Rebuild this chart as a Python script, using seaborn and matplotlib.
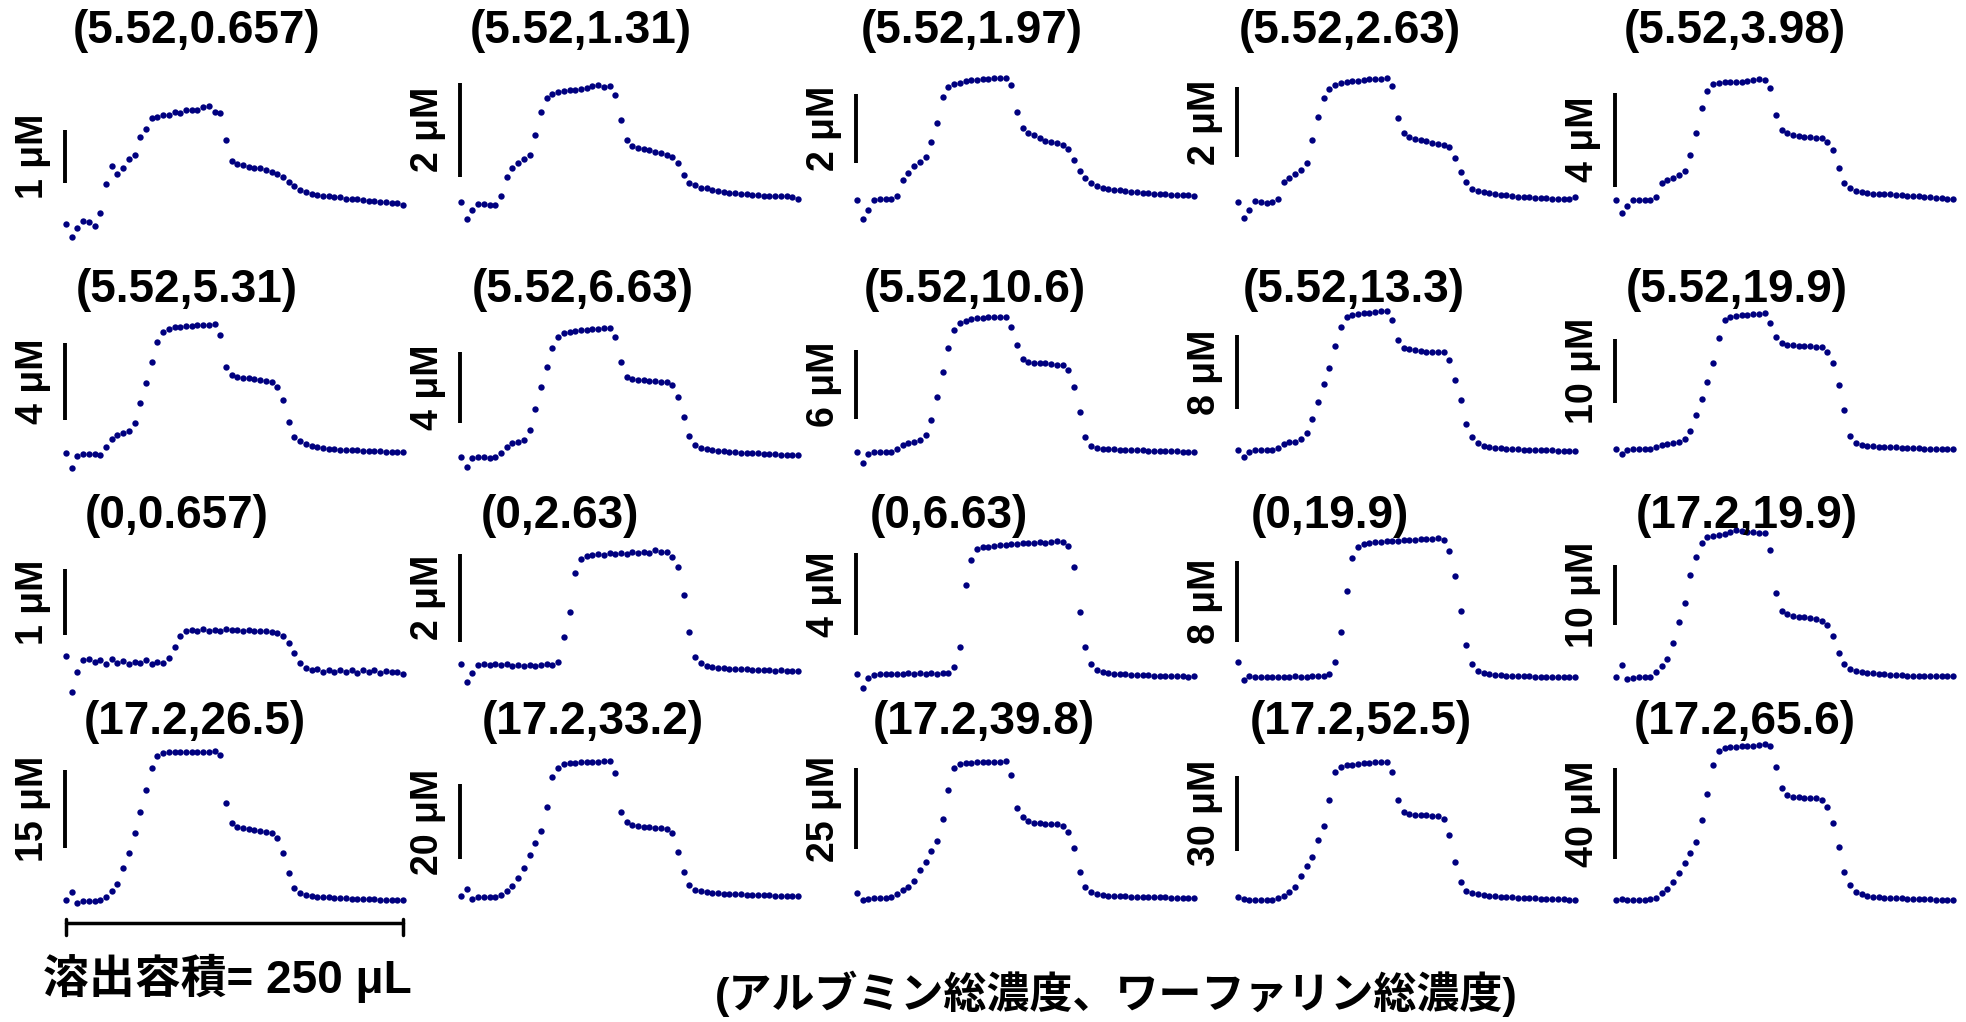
import numpy as np
import matplotlib
matplotlib.use("Agg")
import matplotlib.pyplot as plt
import seaborn as sns

sns.set_style("white")
plt.rcParams['font.family'] = ['Liberation Sans', 'Noto Sans CJK JP', 'DejaVu Sans']
plt.rcParams['font.weight'] = 'bold'
plt.rcParams['text.color'] = 'black'

# panel titles: (total albumin, total warfarin)
albumin = [5.52, 5.52, 5.52, 5.52, 5.52,
           5.52, 5.52, 5.52, 5.52, 5.52,
           0, 0, 0, 0, 17.2,
           17.2, 17.2, 17.2, 17.2, 17.2]
warfarin = [0.657, 1.31, 1.97, 2.63, 3.98,
            5.31, 6.63, 10.6, 13.3, 19.9,
            0.657, 2.63, 6.63, 19.9, 19.9,
            26.5, 33.2, 39.8, 52.5, 65.6]
# vertical scale bars (uM)
scale_bar = [1, 2, 2, 2, 4,
             4, 4, 6, 8, 10,
             1, 2, 4, 8, 10,
             15, 20, 25, 30, 40]
elution_volume = 250  # uL across the whole trace

# eluted warfarin concentration (uM above baseline) for each fraction
conc_01 = [0.0, -0.25, -0.08, 0.06, 0.04, -0.04, 0.2, 0.75, 1.1, 0.95,
           1.05, 1.22, 1.3, 1.65, 1.79, 2.0, 2.02, 2.06, 2.06, 2.12,
           2.09, 2.16, 2.15, 2.16, 2.2, 2.23, 2.12, 2.09, 1.58, 1.19,
           1.14, 1.11, 1.08, 1.05, 1.05, 1.02, 0.99, 0.94, 0.88, 0.8,
           0.72, 0.65, 0.6, 0.57, 0.55, 0.53, 0.52, 0.5, 0.5, 0.48,
           0.48, 0.47, 0.45, 0.44, 0.43, 0.42, 0.42, 0.4, 0.39, 0.36]
conc_02 = [0.04, -0.32, -0.13, 0.01, 0, -0.02, -0.02, 0.16, 0.58, 0.76,
           0.87, 0.95, 1.04, 1.47, 1.96, 2.26, 2.33, 2.38, 2.4, 2.43,
           2.43, 2.45, 2.47, 2.5, 2.53, 2.48, 2.51, 2.32, 1.79, 1.36,
           1.23, 1.2, 1.17, 1.14, 1.11, 1.08, 1.04, 0.99, 0.87, 0.62,
           0.45, 0.4, 0.35, 0.33, 0.3, 0.28, 0.26, 0.24, 0.23, 0.22,
           0.21, 0.2, 0.19, 0.18, 0.18, 0.16, 0.16, 0.16, 0.15, 0.11]
conc_03 = [0, -0.55, -0.29, 0, 0.02, 0.02, 0.03, 0.12, 0.58, 0.79,
           0.98, 1.09, 1.23, 1.68, 2.23, 2.98, 3.25, 3.34, 3.38, 3.42,
           3.46, 3.47, 3.48, 3.5, 3.52, 3.53, 3.53, 3.32, 2.55, 2.07,
           1.94, 1.87, 1.78, 1.71, 1.67, 1.63, 1.58, 1.46, 1.15, 0.85,
           0.63, 0.48, 0.4, 0.36, 0.33, 0.3, 0.28, 0.26, 0.24, 0.22,
           0.2, 0.19, 0.18, 0.17, 0.16, 0.15, 0.14, 0.13, 0.13, 0.12]
conc_04 = [0, -0.48, -0.24, 0.03, -0.01, -0.03, -0.02, 0.08, 0.58, 0.67,
           0.79, 0.9, 1.11, 1.78, 2.45, 2.98, 3.26, 3.38, 3.43, 3.46,
           3.48, 3.49, 3.51, 3.53, 3.53, 3.54, 3.56, 3.34, 2.4, 1.97,
           1.88, 1.82, 1.78, 1.74, 1.7, 1.66, 1.63, 1.57, 1.25, 0.87,
           0.58, 0.38, 0.31, 0.27, 0.24, 0.22, 0.2, 0.18, 0.16, 0.14,
           0.13, 0.13, 0.12, 0.11, 0.1, 0.09, 0.08, 0.08, 0.09, 0.14]
conc_05 = [0, -0.57, -0.26, 0, 0, 0, 0, 0.11, 0.74, 0.85,
           0.95, 1.08, 1.25, 1.91, 2.87, 3.9, 4.65, 4.92, 4.99, 5.02,
           5.02, 5.01, 5.02, 5.08, 5.09, 5.13, 5.11, 4.75, 3.62, 2.98,
           2.87, 2.78, 2.72, 2.7, 2.67, 2.65, 2.62, 2.48, 2.13, 1.35,
           0.74, 0.52, 0.4, 0.34, 0.3, 0.27, 0.26, 0.26, 0.24, 0.23,
           0.21, 0.18, 0.17, 0.16, 0.14, 0.11, 0.09, 0.07, 0.06, 0.03]
conc_06 = [0, -0.78, -0.14, -0.02, -0.03, -0.05, -0.07, 0.31, 0.73, 0.94,
           1.08, 1.18, 1.57, 2.61, 3.69, 4.78, 5.83, 6.33, 6.5, 6.57,
           6.61, 6.63, 6.64, 6.68, 6.7, 6.71, 6.73, 6.17, 4.52, 4.1,
           4.0, 3.95, 3.91, 3.88, 3.83, 3.77, 3.72, 3.48, 2.78, 1.65,
           0.87, 0.63, 0.47, 0.37, 0.31, 0.26, 0.24, 0.21, 0.19, 0.17,
           0.17, 0.16, 0.14, 0.14, 0.12, 0.1, 0.09, 0.09, 0.07, 0.05]
conc_07 = [0.04, -0.52, -0.04, 0, 0, -0.04, 0, 0.22, 0.6, 0.82,
           0.87, 0.97, 1.53, 2.68, 3.94, 5.02, 6.08, 6.7, 6.92, 7.01,
           7.05, 7.09, 7.11, 7.14, 7.16, 7.2, 7.22, 6.7, 5.34, 4.47,
           4.35, 4.32, 4.3, 4.26, 4.24, 4.22, 4.19, 4.04, 3.39, 2.27,
           1.19, 0.69, 0.5, 0.45, 0.39, 0.35, 0.33, 0.3, 0.28, 0.26,
           0.24, 0.22, 0.22, 0.2, 0.19, 0.19, 0.15, 0.15, 0.13, 0.11]
conc_08 = [0, -0.95, -0.14, 0, 0, 0, 0.03, 0.32, 0.63, 0.84,
           0.89, 1.07, 1.5, 2.8, 4.81, 6.97, 8.99, 10.58, 11.15, 11.38,
           11.5, 11.59, 11.64, 11.7, 11.73, 11.73, 11.73, 10.86, 9.28, 8.04,
           7.84, 7.75, 7.72, 7.69, 7.64, 7.58, 7.52, 7.12, 5.68, 3.52,
           1.35, 0.55, 0.35, 0.29, 0.26, 0.26, 0.23, 0.2, 0.2, 0.17,
           0.17, 0.14, 0.14, 0.12, 0.12, 0.09, 0.09, 0.06, 0.06, 0.06]
conc_09 = [0, -0.72, -0.18, -0.04, -0.04, 0, 0, 0.25, 0.61, 0.82,
           0.86, 1.15, 1.86, 3.3, 5.2, 7.06, 8.78, 11.18, 13.26, 14.34,
           14.55, 14.66, 14.7, 14.77, 14.84, 14.91, 14.91, 13.98, 11.83, 10.93,
           10.82, 10.72, 10.65, 10.57, 10.54, 10.54, 10.5, 9.68, 7.53, 5.38,
           2.8, 1.36, 0.72, 0.47, 0.32, 0.25, 0.18, 0.14, 0.11, 0.07,
           0.04, 0.04, 0, 0, -0.04, -0.04, -0.07, -0.07, -0.07, -0.11]
conc_10 = [0, -0.73, -0.1, 0.05, 0, 0, 0.05, 0.31, 0.68, 0.89,
           0.99, 1.15, 1.56, 2.86, 5.36, 7.92, 10.57, 13.44, 17.34, 20.21,
           20.68, 20.89, 20.99, 21.04, 21.09, 21.2, 21.25, 19.79, 17.5, 16.56,
           16.35, 16.25, 16.2, 16.15, 16.09, 16.04, 15.94, 15.26, 13.54, 10.05,
           6.15, 2.08, 1.04, 0.73, 0.57, 0.47, 0.42, 0.36, 0.31, 0.31,
           0.26, 0.21, 0.16, 0.16, 0.1, 0.1, 0.05, 0.05, 0.05, 0]
conc_11 = [0.08, -0.46, -0.15, 0.03, 0.04, 0, 0.03, -0.03, 0.04, -0.02,
           0.01, -0.04, 0, -0.02, 0.02, -0.04, 0, -0.02, 0.05, 0.23,
           0.39, 0.46, 0.48, 0.47, 0.5, 0.47, 0.49, 0.47, 0.5, 0.48,
           0.49, 0.47, 0.48, 0.47, 0.46, 0.46, 0.45, 0.44, 0.39, 0.28,
           0.13, -0.02, -0.09, -0.13, -0.11, -0.15, -0.12, -0.15, -0.12, -0.16,
           -0.13, -0.17, -0.13, -0.16, -0.13, -0.17, -0.14, -0.16, -0.15, -0.18]
conc_12 = [0.03, -0.37, -0.17, 0.01, 0.02, 0, 0.03, 0, 0.02, -0.02,
           0.01, -0.02, 0, -0.02, 0, 0.02, 0, 0.08, 0.65, 1.22,
           2.1, 2.42, 2.49, 2.52, 2.54, 2.52, 2.56, 2.53, 2.57, 2.55,
           2.59, 2.56, 2.59, 2.57, 2.62, 2.58, 2.59, 2.48, 2.24, 1.6,
           0.77, 0.2, 0.05, -0.02, -0.05, -0.06, -0.07, -0.08, -0.08, -0.09,
           -0.09, -0.1, -0.11, -0.11, -0.11, -0.12, -0.11, -0.12, -0.12, -0.13]
conc_13 = [0.02, -0.68, -0.19, -0.02, 0, 0.02, 0, 0.03, 0.02, 0.05,
           0.02, 0.05, 0.02, 0.06, 0.03, 0.06, 0.05, 0.37, 1.34, 4.34,
           5.55, 6.11, 6.17, 6.2, 6.25, 6.27, 6.3, 6.33, 6.35, 6.36,
           6.38, 6.4, 6.41, 6.38, 6.41, 6.49, 6.41, 6.23, 5.23, 3.04,
           1.34, 0.5, 0.21, 0.11, 0.06, 0.03, 0.02, 0, -0.02, -0.03,
           -0.03, -0.05, -0.06, -0.06, -0.08, -0.08, -0.1, -0.1, -0.11, -0.08]
conc_14 = [1.5, -0.3, 0.05, 0, 0.03, 0.02, 0, 0.04, 0.02, 0.03,
           0.05, 0.03, 0.04, 0.05, 0.06, 0.08, 0.3, 1.5, 4.5, 8.5,
           11.8, 12.9, 13.2, 13.3, 13.35, 13.4, 13.45, 13.5, 13.5, 13.55,
           13.6, 13.6, 13.65, 13.7, 13.7, 13.75, 13.6, 12.5, 10.0, 6.5,
           3.2, 1.3, 0.6, 0.35, 0.25, 0.2, 0.15, 0.12, 0.1, 0.08,
           0.06, 0.05, 0.04, 0.03, 0.02, 0.02, 0.01, 0, 0, -0.01]
conc_15 = [0, 2.0, -0.33, -0.11, 0, 0, 0.11, 0.94, 1.89, 3.0,
           5.67, 9.28, 12.33, 17.06, 20.11, 22.33, 23.33, 23.61, 23.72, 23.89,
           24.17, 24.56, 24.44, 24.28, 24.22, 24.11, 24.0, 21.22, 14.0, 11.11,
           10.5, 10.22, 10.11, 10.0, 9.83, 9.67, 9.44, 8.72, 6.89, 4.11,
           2.17, 1.33, 1.0, 0.89, 0.78, 0.72, 0.61, 0.5, 0.39, 0.33,
           0.33, 0.28, 0.28, 0.22, 0.22, 0.22, 0.22, 0.22, 0.22, 0.28]
conc_16 = [0.13, 1.72, -0.4, 0, 0, 0, 0.06, 0.77, 1.85, 3.13,
           6.19, 9.06, 12.89, 17.04, 21.19, 25.34, 27.7, 28.21, 28.4, 28.46,
           28.46, 28.46, 28.46, 28.46, 28.46, 28.53, 28.72, 27.89, 18.63, 14.8,
           14.17, 13.91, 13.66, 13.47, 13.34, 13.15, 13.02, 11.93, 9.06, 5.36,
           2.36, 1.4, 1.08, 0.89, 0.77, 0.7, 0.64, 0.57, 0.51, 0.45,
           0.38, 0.38, 0.32, 0.32, 0.26, 0.19, 0.13, 0.13, 0.13, 0.13]
conc_17 = [0.35, 2.12, -0.44, 0, 0, 0, 0.09, 0.53, 1.59, 3.1,
           5.04, 7.7, 11.24, 14.34, 17.61, 24.07, 31.86, 34.25, 35.31, 35.66,
           35.75, 35.84, 35.93, 35.93, 36.02, 36.11, 36.11, 33.1, 22.74, 20.09,
           19.2, 18.85, 18.67, 18.58, 18.5, 18.41, 18.23, 16.99, 12.12, 6.81,
           3.27, 1.95, 1.59, 1.33, 1.15, 1.06, 0.97, 0.88, 0.8, 0.8,
           0.71, 0.62, 0.62, 0.53, 0.53, 0.44, 0.44, 0.44, 0.35, 0.35]
conc_18 = [1.54, -0.51, -0.1, 0, 0, 0, 0.31, 1.23, 2.57, 3.6,
           5.35, 8.74, 11.32, 14.71, 17.8, 24.38, 33.44, 40.12, 41.46, 41.77,
           41.87, 41.98, 41.98, 42.08, 42.08, 42.18, 42.28, 38.07, 27.78, 25.0,
           23.77, 23.35, 23.15, 23.05, 23.05, 22.94, 22.33, 20.58, 15.43, 8.23,
           3.6, 1.85, 1.34, 1.03, 0.82, 0.72, 0.72, 0.62, 0.51, 0.51,
           0.41, 0.41, 0.31, 0.31, 0.31, 0.21, 0.21, 0.1, 0.1, 0]
conc_19 = [1.07, 0.27, 0, 0, 0, 0, 0, 0.67, 1.74, 3.35,
           5.35, 9.64, 13.65, 17.14, 24.1, 29.72, 40.16, 51.54, 53.55, 54.08,
           54.35, 54.48, 54.89, 55.15, 55.29, 55.42, 55.56, 51.54, 40.16, 35.48,
           34.54, 34.27, 34.14, 34.0, 33.87, 33.87, 32.4, 26.1, 15.39, 7.36,
           3.75, 2.95, 2.41, 2.01, 1.74, 1.47, 1.34, 1.2, 1.07, 0.94,
           0.8, 0.67, 0.67, 0.54, 0.54, 0.4, 0.4, 0.27, 0.13, 0]
conc_20 = [0, 0.29, 0, 0, 0, 0, 0.29, 0.88, 2.93, 4.69,
           8.05, 11.71, 16.11, 20.79, 25.62, 35.14, 46.56, 59.3, 65.59, 66.62,
           67.06, 67.35, 67.5, 67.64, 67.79, 68.08, 68.37, 67.79, 58.57, 49.05,
           46.12, 45.39, 45.1, 44.95, 44.8, 44.66, 43.92, 41.0, 33.67, 23.43,
           12.45, 6.59, 3.66, 2.49, 1.76, 1.46, 1.17, 1.02, 0.88, 0.73,
           0.73, 0.59, 0.44, 0.44, 0.29, 0.29, 0.15, 0.15, 0, 0]

traces = [conc_01, conc_02, conc_03, conc_04, conc_05,
          conc_06, conc_07, conc_08, conc_09, conc_10,
          conc_11, conc_12, conc_13, conc_14, conc_15,
          conc_16, conc_17, conc_18, conc_19, conc_20]

# ---- layout (figure pixels) ----
W, H = 1966, 1022
col_left = [66, 461, 857, 1238, 1616]
col_width = 337
row_band = [(40, 250), (300, 480), (530, 705), (745, 915)]
# baseline y, pixels per uM, bottom of scale bar
panel_layout = [(224, 53.0, 183), (204, 47.0, 176.7), (200, 34.67, 163.3), (201.7, 34.67, 156.7), (200, 23.5, 186.7),
                (453.3, 19.17, 420), (457.3, 17.92, 423.3), (452.3, 11.57, 419.3), (450, 9.3, 409.3), (449.3, 6.4, 403.3),
                (661.7, 65.67, 635), (665.3, 43.83, 641.7), (674.3, 20.58, 635), (677, 10.1, 642), (677.3, 6.0, 625),
                (900.7, 5.22, 848.3), (897.3, 3.77, 859.3), (898.3, 3.24, 849.3), (900, 2.49, 850.7), (900, 2.277, 859.3)]
title_pos = [(197, 31), (581, 31), (972, 31), (1350, 31), (1735, 31),
             (187, 290), (583, 290), (975, 290), (1354, 290), (1737, 290),
             (177, 516), (560, 516), (949, 516), (1330, 516), (1747, 516),
             (195, 722), (593, 722), (984, 722), (1361, 722), (1745, 722)]
dot_color = '#00007f'

fig = plt.figure(figsize=(W / 100, H / 100), dpi=100)

axes = []
for k, trace in enumerate(traces):
    r, c = divmod(k, 5)
    x0 = col_left[c]
    top, bot = row_band[r]
    base, ppu, bar_bot = panel_layout[k]
    ax = fig.add_axes([x0 / W, 1 - bot / H, col_width / W, (bot - top) / H])
    n = len(trace)
    frac = np.arange(n)
    sns.scatterplot(x=frac, y=trace, ax=ax, color=dot_color, s=21,
                    linewidth=0, clip_on=False)
    ax.set_xlim(0, n - 1)
    ax.set_ylim((base - bot) / ppu, (base - top) / ppu)
    ax.set_axis_off()

    # vertical concentration scale bar
    y0 = (base - bar_bot) / ppu
    bx = -0.25
    ax.plot([bx, bx], [y0, y0 + scale_bar[k]], color='black', lw=2.8,
            solid_capstyle='butt', clip_on=False)
    ax.annotate(f"{scale_bar[k]:g} \u03bcM", xy=(bx, y0 + scale_bar[k] / 2),
                xytext=(-10, 0), textcoords='offset points', rotation=90,
                ha='right', va='center', fontsize=27, fontweight='bold',
                annotation_clip=False)

    tx, ty = title_pos[k]
    fig.text(tx / W, 1 - ty / H, f"({albumin[k]:g},{warfarin[k]:g})",
             ha='center', va='center', fontsize=33, fontweight='bold')
    axes.append(ax)

# horizontal elution-volume scale bar under the first column
ax = axes[15]
base, ppu, _ = panel_layout[15]
n = len(traces[15])
yh = (base - 923) / ppu
yc0, yc1 = (base - 919) / ppu, (base - 935) / ppu
ax.plot([0, n - 1], [yh, yh], color='black', lw=2.5, clip_on=False)
ax.plot([0, 0], [yc0, yc1], color='black', lw=2.5, clip_on=False)
ax.plot([n - 1, n - 1], [yc0, yc1], color='black', lw=2.5, clip_on=False)
fig.text(227 / W, 1 - 978 / H, f"溶出容積= {elution_volume} \u03bcL",
         ha='center', va='center', fontsize=33, fontweight='bold')

fig.text(1116 / W, 1 - 994 / H, "(アルブミン総濃度、ワーファリン総濃度)",
         ha='center', va='center', fontsize=31, fontweight='bold')

fig.savefig("out.png", dpi=100)
